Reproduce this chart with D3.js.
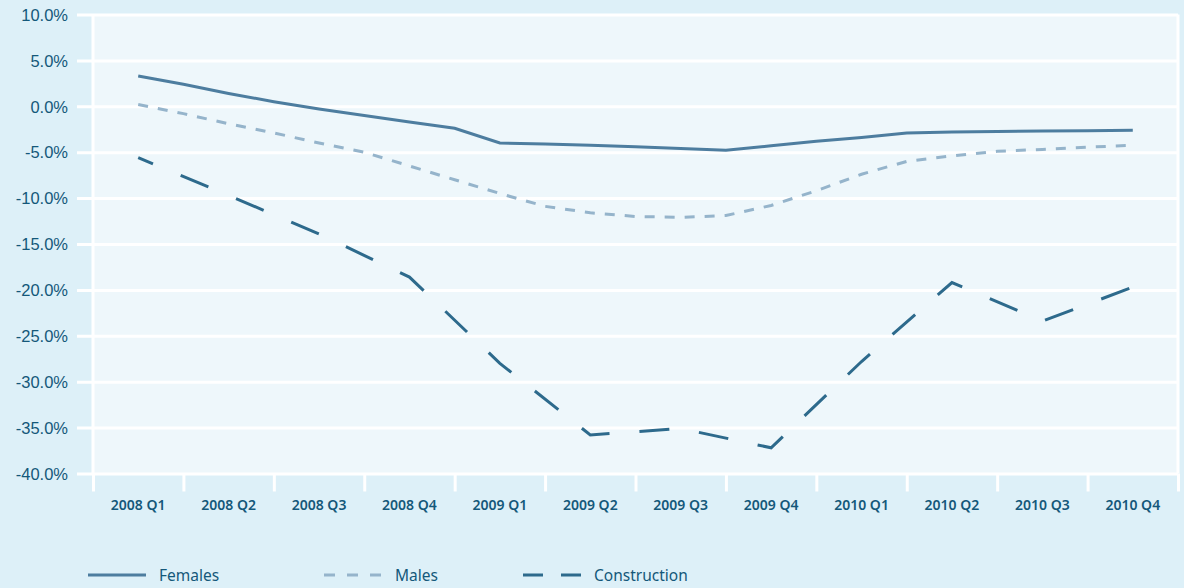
<!DOCTYPE html>
<html>
<head>
<meta charset="utf-8">
<script src="https://cdn.jsdelivr.net/npm/d3@7"></script>
<style>
  body { margin: 0; background: #ddf0f8; }
  svg { display: block; font-family: "Noto Sans", "Open Sans", sans-serif; }
  .ylab { font-size: 16.5px; font-weight: 500; fill: #14587a; }
  .xlab { font-size: 14px; font-weight: 600; fill: #14587a; }
  .leg { font-size: 15.5px; fill: #14587a; }
</style>
</head>
<body>
<div id="chart"></div>
<script>
// Quarter categories on the x axis
var quarters = ["2008 Q1", "2008 Q2", "2008 Q3", "2008 Q4",
                "2009 Q1", "2009 Q2", "2009 Q3", "2009 Q4",
                "2010 Q1", "2010 Q2", "2010 Q3", "2010 Q4"];

// y ticks (percent)
var yTicks = [10, 5, 0, -5, -10, -15, -20, -25, -30, -35, -40];

// Females and males are read at half-quarter steps (0 = 2008 Q1 ... 11 = 2010 Q4)
var halfSteps = [0, 0.5, 1, 1.5, 2, 2.5, 3, 3.5, 4, 4.5, 5, 5.5,
                 6, 6.5, 7, 7.5, 8, 8.5, 9, 9.5, 10, 10.5, 11];
var females = [3.3, 2.4, 1.4, 0.5, -0.3, -1.0, -1.7, -2.4, -4.0, -4.1, -4.25, -4.4,
               -4.6, -4.8, -4.3, -3.8, -3.4, -2.9, -2.8, -2.75, -2.7, -2.65, -2.6];
var males = [0.2, -0.8, -1.9, -2.9, -4.0, -5.0, -6.5, -8.0, -9.5, -10.9, -11.6, -12.0,
             -12.1, -11.9, -10.8, -9.2, -7.4, -6.0, -5.4, -4.9, -4.7, -4.45, -4.25];

// Construction, one value per quarter
var construction = [-5.6, -9.7, -13.9, -18.6, -28.0, -35.8, -35.1, -37.2,
                    -27.8, -19.2, -23.4, -19.7];

var svgWidth = 1184;
var svgHeight = 588;

var plot = { left: 93, right: 1178, top: 14.5, bottom: 473.5 };

var svg = d3.select("#chart")
            .append("svg")
            .attr("width", svgWidth)
            .attr("height", svgHeight);

// Scales
var xBand = d3.scaleBand()
    .domain(quarters)
    .range([plot.left, plot.right]);
var bw = xBand.bandwidth();

var xPos = d3.scaleLinear()
    .domain([0, quarters.length - 1])
    .range([plot.left + bw / 2, plot.right - bw / 2]);

var yScale = d3.scaleLinear()
    .domain([-40, 10])
    .range([plot.bottom, plot.top]);

// Plot background
svg.append("rect")
   .attr("x", plot.left)
   .attr("y", plot.top)
   .attr("width", plot.right - plot.left)
   .attr("height", plot.bottom - plot.top)
   .attr("fill", "#eef7fb");

// Horizontal gridlines + y labels via axisLeft (hyphen minus like the original)
var yAxis = d3.axisLeft(yScale)
    .tickValues(yTicks)
    .tickSize(-(plot.right - plot.left) - 16)
    .tickFormat(d => d3.format(".1f")(d).replace("\u2212", "-") + "%");

var yG = svg.append("g")
    .attr("transform", `translate(${plot.right},0)`)
    .call(yAxis);
yG.select(".domain").remove();
yG.selectAll(".tick line")
  .attr("stroke", "#ffffff")
  .attr("stroke-width", 3)
  .attr("x1", 0)
  .attr("x2", -(plot.right - plot.left) - 16);
yG.selectAll(".tick text")
  .attr("class", "ylab")
  .attr("x", -(plot.right - plot.left) - 25)
  .attr("dy", "0.35em")
  .attr("fill", null);

// Vertical ticks at quarter boundaries via axisBottom
var boundaries = quarters.map(q => xBand(q)).concat([plot.right]);
var xAxis = d3.axisBottom(d3.scaleIdentity())
    .tickValues(boundaries)
    .tickSize(18)
    .tickFormat("");
var xG = svg.append("g")
    .attr("transform", `translate(0,${plot.bottom})`)
    .call(xAxis);
xG.select(".domain").remove();
xG.selectAll(".tick line")
  .attr("stroke", "#ffffff")
  .attr("stroke-width", 3);

// Left and right frame lines
[plot.left, plot.right].forEach(function(x) {
    svg.append("line")
       .attr("x1", x).attr("x2", x)
       .attr("y1", plot.top).attr("y2", plot.bottom)
       .attr("stroke", "#ffffff")
       .attr("stroke-width", 3);
});

// Quarter labels
svg.append("g")
   .selectAll("text")
   .data(quarters)
   .enter()
   .append("text")
   .attr("class", "xlab")
   .attr("x", d => xBand(d) + bw / 2)
   .attr("y", 510)
   .attr("text-anchor", "middle")
   .text(d => d);

// Lines
var line = d3.line()
    .x(d => xPos(d[0]))
    .y(d => yScale(d[1]));

var series = [
    { name: "Females", data: d3.zip(halfSteps, females), color: "#4d7d9f", dash: null, offset: 0, legDash: null, legX: 88 },
    { name: "Males", data: d3.zip(halfSteps, males), color: "#95b4cb", dash: "10,10", offset: 0, legDash: "11,12", legX: 324 },
    { name: "Construction", data: d3.zip(d3.range(quarters.length), construction), color: "#2d6a8c", dash: "30,30", offset: 14, legDash: "20,18", legX: 523 }
];

series.forEach(function(s) {
    svg.append("path")
       .datum(s.data)
       .attr("d", line)
       .attr("fill", "none")
       .attr("stroke", s.color)
       .attr("stroke-width", 3)
       .attr("stroke-dasharray", s.dash)
       .attr("stroke-dashoffset", s.offset);
});

// Legend
var legend = svg.append("g");
series.forEach(function(s) {
    legend.append("line")
          .attr("x1", s.legX)
          .attr("x2", s.legX + 58)
          .attr("y1", 575)
          .attr("y2", 575)
          .attr("stroke", s.color)
          .attr("stroke-width", 3)
          .attr("stroke-dasharray", s.legDash);
    legend.append("text")
          .attr("class", "leg")
          .attr("x", s.legX + 71)
          .attr("y", 581)
          .text(s.name);
});
</script>
</body>
</html>
